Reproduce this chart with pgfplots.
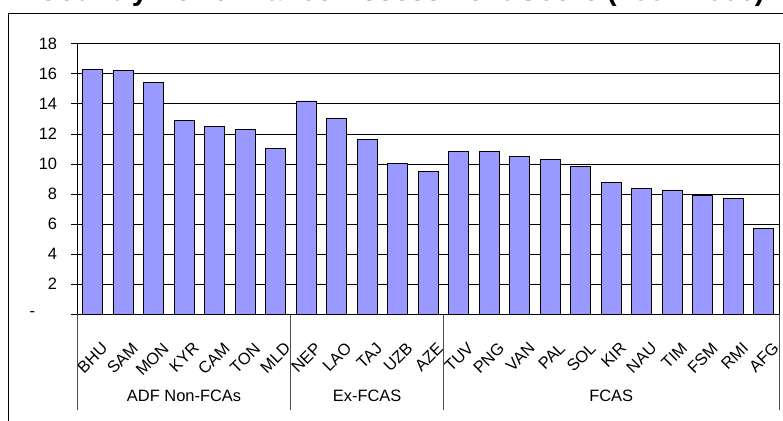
\documentclass[border=0pt]{standalone}
\usepackage{fontspec}
\setmainfont{Liberation Sans}
\usepackage{pgfplots}
\usepackage{pgfplotstable}
\pgfplotsset{compat=1.18}
\definecolor{barfill}{HTML}{9999FF}

\pgfplotstableread{
i  v
0  16.30
1  16.20
2  15.45
3  12.88
4  12.48
5  12.30
6  11.06
7  14.19
8  13.06
9  11.62
10 10.02
11 9.53
12 10.80
13 10.80
14 10.49
15 10.30
16 9.82
17 8.76
18 8.36
19 8.27
20 7.92
21 7.69
22 5.70
}\cpa

\begin{document}
\begin{tikzpicture}[x=1bp,y=1bp]
\begin{scope}
\clip (0,0) rectangle (783,420);
% chart title
\node[anchor=base west, inner sep=0pt, font=\fontsize{29}{34}\selectfont\bfseries]
  at (37,419.3) {Country Performance Assessment Score (2004-2006)};
% chart area border
\draw[line width=1bp] (8.3,-10) -- (8.3,406.7) -- (800,406.7);
\begin{axis}[
  at={(77.3bp,105.7bp)}, anchor=south west,
  scale only axis, width=701.7bp, height=270.6bp,
  xmin=-0.5, xmax=22.5, ymin=0, ymax=18,
  ytick={0,2,...,18},
  yticklabels={{-\kern22bp},2,4,6,8,10,12,14,16,18},
  ymajorgrids, grid style={black, line width=0.8bp},
  xtick={0,...,22},
  xticklabels={BHU,SAM,MON,KYR,CAM,TON,MLD,NEP,LAO,TAJ,UZB,AZE,TUV,PNG,VAN,PAL,SOL,KIR,NAU,TIM,FSM,RMI,AFG},
  major x tick style={draw=none},
  ytick style={black, line width=0.8bp},
  tick align=outside, major tick length=6bp, ytick pos=left,
  axis line style={black, line width=0.9bp},
  ticklabel style={font=\fontsize{16.5}{19}\selectfont},
  xticklabel style={inner sep=0pt, anchor=north east, xshift=8bp, yshift=-21bp, rotate=45},
  yticklabel style={inner sep=0pt, anchor=east, xshift=-14bp},
  clip=false,
  ybar, bar width=0.66, bar shift=0pt,
]
\addplot[fill=barfill, draw=black, line width=0.9bp] table[x=i, y=v] {\cpa};
% group separators below the category axis
\pgfplotsinvokeforeach{-0.5,6.5,11.5,22.5}{
  \draw[gray!60!black, line width=0.8bp] (axis cs:#1,0) -- ++(0bp,-96bp);
}
\node[font=\fontsize{16.5}{19}\selectfont, yshift=-82bp] at (axis cs:3,0) {ADF Non-FCAs};
\node[font=\fontsize{16.5}{19}\selectfont, yshift=-82bp] at (axis cs:9,0) {Ex-FCAS};
\node[font=\fontsize{16.5}{19}\selectfont, yshift=-82bp] at (axis cs:17,0) {FCAS};
\end{axis}
\end{scope}
\pgfresetboundingbox
\path[use as bounding box] (0,0) rectangle (783,420);
\end{tikzpicture}
\end{document}
